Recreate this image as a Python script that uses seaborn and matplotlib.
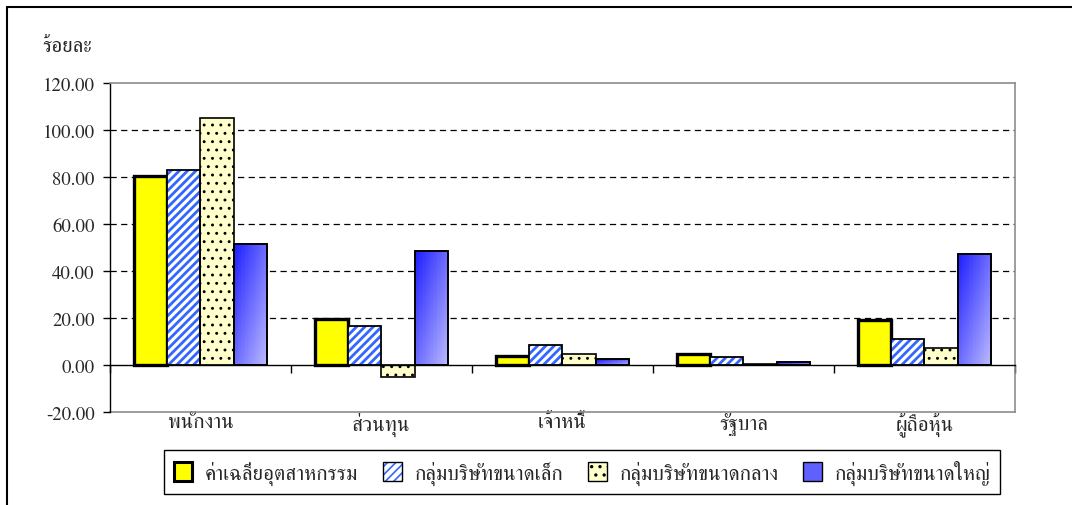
import numpy as np
import pandas as pd
import matplotlib
matplotlib.use("Agg")
import matplotlib.pyplot as plt
import seaborn as sns
from matplotlib.patches import Rectangle, Patch
from matplotlib.lines import Line2D
from matplotlib.collections import PolyCollection
from matplotlib.colors import LinearSegmentedColormap
from matplotlib.ticker import FormatStrFormatter

# ---- data -------------------------------------------------------------
categories = ["พนักงาน", "ส่วนทุน", "เจ้าหนี้", "รัฐบาล", "ผู้ถือหุ้น"]
groups = ["ค่าเฉลี่ยอุตสาหกรรม", "กลุ่มบริษัทขนาดเล็ก",
          "กลุ่มบริษัทขนาดกลาง", "กลุ่มบริษัทขนาดใหญ่"]
industry_avg = [80.5, 19.6, 3.9, 4.8, 19.2]
small_firms = [83.0, 16.8, 8.4, 3.5, 11.2]
medium_firms = [105.2, -5.2, 4.6, 0.4, 7.4]
large_firms = [51.5, 48.3, 2.6, 1.3, 47.2]
y_ticks = [-20, 0, 20, 40, 60, 80, 100, 120]
y_label = "ร้อยละ"

series = [industry_avg, small_firms, medium_firms, large_firms]
df = pd.DataFrame({
    "category": np.repeat([categories], len(groups), axis=0).ravel(),
    "group": np.repeat(groups, len(categories)),
    "value": np.concatenate(series),
})

# ---- style ------------------------------------------------------------
sns.set_style("white")
plt.rcParams["font.family"] = ["FreeSerif", "DejaVu Sans"]
plt.rcParams["hatch.linewidth"] = 1.2


def hatch_width(patch, lw):
    """Per-patch hatch stroke width where the matplotlib version allows it."""
    if hasattr(patch, "set_hatch_linewidth"):
        patch.set_hatch_linewidth(lw)


fig = plt.figure(figsize=(10.72, 5.06), dpi=100)
ax = fig.add_axes([0.1026, 0.1838, 0.8442, 0.6502])

sns.barplot(data=df, x="category", y="value", hue="group",
            order=categories, hue_order=groups,
            palette=["#ffff00", "#ffffff", "#ffffcc", "#3030ff"],
            width=0.73, saturation=1, legend=False, errorbar=None,
            edgecolor="black", linewidth=1.2, ax=ax)

# industry average: plain yellow with a heavy outline
for bar in ax.containers[0]:
    bar.set_linewidth(2.4)

# small firms: blue diagonal stripes with a black outline
for bar in ax.containers[1]:
    bar.set_facecolor("white")
    bar.set_edgecolor("#3366ff")
    bar.set_hatch("////")
    hatch_width(bar, 2.0)
    bar.set_linewidth(0)
    ax.add_patch(Rectangle(bar.get_xy(), bar.get_width(), bar.get_height(),
                           fill=False, ec="black", lw=1.3, zorder=bar.get_zorder() + 0.1))

# medium firms: cream with small black dots
for bar in ax.containers[2]:
    bar.set_facecolor("#ffffcc")
    bar.set_hatch("..")
    hatch_width(bar, 0.9)
    bar.set_linewidth(1.2)

# large firms: gradient from dark blue (top-left) to pale blue (bottom-right),
# built from a fine grid of cells laid out in data coordinates
grad_cmap = LinearSegmentedColormap.from_list("blue_grad", ["#1a1aff", "#b8b8ff"])
nx, ny = 24, 80
for bar in ax.containers[3]:
    x0, w = bar.get_x(), bar.get_width()
    yb, yt = sorted([bar.get_y(), bar.get_y() + bar.get_height()])
    bar.set_facecolor("none")
    bar.set_linewidth(1.4)
    xs = np.linspace(x0, x0 + w, nx + 1)
    ys = np.linspace(yb, yt, ny + 1)
    cells, shade = [], []
    for i in range(nx):
        for j in range(ny):
            cells.append([(xs[i], ys[j]), (xs[i + 1], ys[j]),
                          (xs[i + 1], ys[j + 1]), (xs[i], ys[j + 1])])
            u = (i + 0.5) / nx                 # 0 = left edge
            v = (j + 0.5) / ny                 # 0 = bottom edge
            shade.append((u + (1 - v)) / 2)    # darkest at top-left
    pc = PolyCollection(cells, array=np.array(shade), cmap=grad_cmap,
                        clim=(0, 1), edgecolors="face", linewidths=0.3,
                        antialiased=False, zorder=bar.get_zorder() - 0.05)
    ax.add_collection(pc, autolim=False)
    pc.set_clip_path(bar)

# ---- axes -------------------------------------------------------------
ax.set_xlim(-0.5, len(categories) - 0.5)
ax.set_ylim(y_ticks[0], y_ticks[-1])
ax.set_xlabel("")
ax.set_ylabel("")

for v in y_ticks:
    if v not in (y_ticks[0], 0, y_ticks[-1]):
        ax.axhline(v, color="black", lw=0.9, ls=(0, (5, 3.5)), zorder=0.5)

ax.set_yticks(y_ticks)
ax.yaxis.set_major_formatter(FormatStrFormatter("%.2f"))
ax.tick_params(axis="y", direction="out", length=5, width=1, color="black",
               labelsize=13.5, pad=6, left=True)

# category boundaries as tick marks hanging from the zero line
ax.spines["bottom"].set_position(("data", 0))
ax.spines["bottom"].set_color("black")
ax.spines["bottom"].set_linewidth(1.0)
ax.set_xticks(np.arange(-0.5, len(categories), 1.0))
ax.tick_params(axis="x", direction="out", length=6, width=1, color="black",
               labelbottom=False, bottom=True)

ax.spines["left"].set_color("black")
ax.spines["left"].set_linewidth(1.0)
for side in ("top", "right"):
    ax.spines[side].set_visible(True)
    ax.spines[side].set_color("#8c8c8c")
    ax.spines[side].set_linewidth(1.2)

# category labels along the bottom frame
sec = ax.secondary_xaxis(0.0)
sec.set_xticks(range(len(categories)), categories)
sec.tick_params(length=0, pad=0, labelsize=15)
sec.spines["bottom"].set_color("#8c8c8c")
sec.spines["bottom"].set_linewidth(1.2)

fig.text(42 / 1072, 1 - 47 / 506, y_label, ha="left", va="center", fontsize=15)

# ---- legend -----------------------------------------------------------
stripe_handle = Patch(fc="white", ec="#3366ff", hatch="////", lw=0)
hatch_width(stripe_handle, 2.0)
dot_handle = Patch(fc="#ffffcc", ec="black", hatch="..", lw=1)
hatch_width(dot_handle, 0.9)
handles = [
    Patch(fc="#ffff00", ec="black", lw=2.2),
    (stripe_handle, Patch(fill=False, ec="black", lw=1)),
    dot_handle,
    Patch(fc="#6060ff", ec="black", lw=1),
]
leg = fig.legend(handles, groups, loc="center", bbox_to_anchor=(0.543, 0.065),
                 ncol=4, frameon=True, fancybox=False, edgecolor="black",
                 framealpha=1, fontsize=15, handlelength=0.9, handleheight=1.0,
                 handletextpad=0.6, columnspacing=1.2, borderpad=0.45)
leg.get_frame().set_linewidth(1.0)

# outer chart frame
fig.add_artist(Line2D([7 / 1072, 7 / 1072], [0, 1 - 8 / 506],
                      transform=fig.transFigure, color="black", lw=1.5))
fig.add_artist(Line2D([7 / 1072, 1], [1 - 8 / 506, 1 - 8 / 506],
                      transform=fig.transFigure, color="black", lw=1.5))

fig.savefig("out.png", dpi=100)
